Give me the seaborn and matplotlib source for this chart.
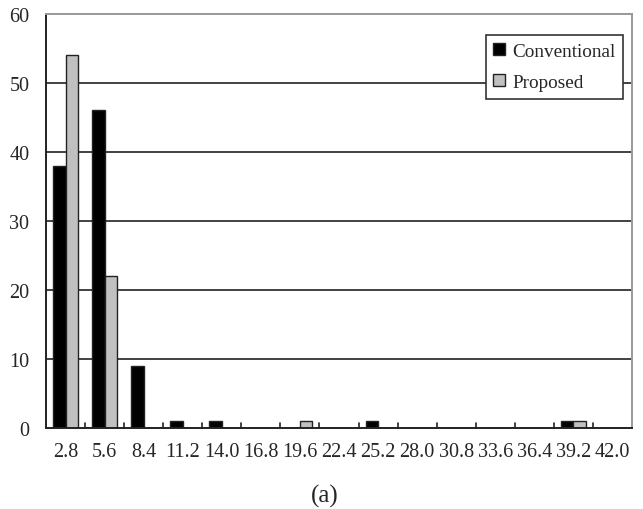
import matplotlib
matplotlib.use("Agg")
import matplotlib.pyplot as plt
import seaborn as sns
import pandas as pd
import numpy as np

# Histogram bins (upper edges) and counts per method
bins = ["2.8", "5.6", "8.4", "11.2", "14.0", "16.8", "19.6", "22.4",
        "25.2", "28.0", "30.8", "33.6", "36.4", "39.2", "42.0"]
conventional = [38, 46, 9, 1, 1, 0, 0, 0, 1, 0, 0, 0, 0, 1, 0]
proposed = [54, 22, 0, 0, 0, 0, 1, 0, 0, 0, 0, 0, 0, 1, 0]
methods = ["Conventional", "Proposed"]
colors = ["#000000", "#c0c0c0"]
y_ticks = [0, 10, 20, 30, 40, 50, 60]

df = pd.DataFrame({
    "bin": bins * 2,
    "count": conventional + proposed,
    "method": [methods[0]] * len(bins) + [methods[1]] * len(bins),
})

sns.set_style("white")
plt.rcParams["font.family"] = ["Liberation Serif", "DejaVu Serif"]

fig = plt.figure(figsize=(6.43, 5.10), dpi=100)
ax = fig.add_axes([0.0715, 0.159, 0.9115, 0.812])

sns.barplot(data=df, x="bin", y="count", hue="method", order=bins,
            hue_order=methods, palette=colors, width=0.64,
            edgecolor="#222222", linewidth=1.0, ax=ax, zorder=3)

ax.set_xlim(-0.5, len(bins) - 0.5)
ax.set_ylim(0, 60)
ax.set_yticks(y_ticks)
ax.set_yticklabels([str(v) for v in y_ticks], fontsize=14.5)
ax.set_xticks(range(len(bins)))
ax.set_xticklabels(bins, fontsize=14.5)
ax.set_xlabel("")
ax.set_ylabel("")

# horizontal grid lines
for v in y_ticks[1:-1]:
    ax.axhline(v, color="#333333", linewidth=1.3, zorder=1)

# category separators as small ticks on the baseline
for b in np.arange(0.5, len(bins) - 0.5, 1.0):
    ax.plot([b, b], [0, 0.7], color="#222222", linewidth=1.2, zorder=4,
            clip_on=False)
ax.tick_params(axis="x", length=0, pad=10)
ax.tick_params(axis="y", length=5, width=1.2, color="#222222", direction="out", pad=7)

for side in ["left", "bottom"]:
    ax.spines[side].set_color("#222222")
    ax.spines[side].set_linewidth(1.4)
for side in ["top", "right"]:
    ax.spines[side].set_color("#999999")
    ax.spines[side].set_linewidth(1.4)
ax.spines["bottom"].set_zorder(5)

leg = ax.legend(loc="upper right", bbox_to_anchor=(0.985, 0.949),
                fontsize=13.8, frameon=True, fancybox=False,
                handlelength=0.6, handleheight=0.6, handletextpad=0.4,
                borderpad=0.4, labelspacing=0.75, borderaxespad=0)
leg.get_frame().set_edgecolor("#333333")
leg.get_frame().set_linewidth(1.2)
leg.get_frame().set_facecolor("white")
leg.get_frame().set_alpha(1)
leg.set_zorder(6)

fig.text(0.505, 0.026, "(a)", fontsize=18, ha="center", va="center")

fig.savefig("out.png", dpi=100)
